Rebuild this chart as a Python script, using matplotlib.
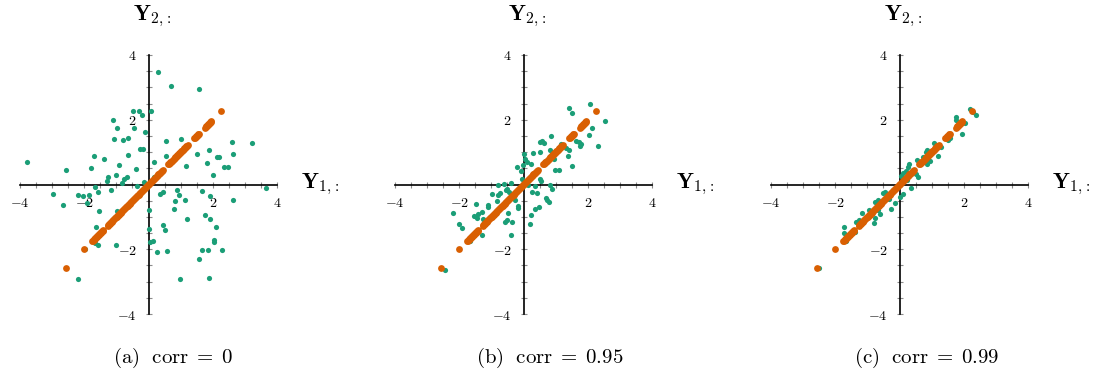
import matplotlib as mpl
mpl.use("agg")
import matplotlib.pyplot as plt
from matplotlib.ticker import FixedLocator, FixedFormatter

mpl.rcParams['mathtext.fontset'] = 'cm'

green = '#1b9e77'
orange = '#d95f02'

# green samples, panel (a) corr = 0
a_x = [-3.79, 0.30, 0.70, 1.58, -2.57, -2.96, -2.65, -2.18, -2.03, -1.84, -1.90, -1.80, -1.71,
       -1.40, -1.68, -1.58, -1.54, -1.62, -1.58, -1.66, -1.97, -2.19, -1.09, -0.97, -1.06, -0.79,
       -0.64, -0.63, -0.91, -1.27, -1.28, -1.18, -1.00, -0.68, -0.75, -0.81, -0.39, -0.37, -0.49,
       -0.30, -0.20, 0.07, -0.45, -0.11, -0.25, -0.18, -0.99, -1.00, -0.14, 0.18, 0.16, 0.53,
       0.53, 1.00, 0.37, 0.45, 0.88, 0.95, 0.84, 0.78, 0.00, 0.00, 0.44, 0.50, 0.06, 0.15,
       0.28, 0.59, 0.97, 1.14, 1.19, 1.17, 1.50, 1.65, 1.81, 1.89, 1.90, 2.01, 1.75, 1.90,
       2.10, 2.03, 2.05, 1.66, 1.84, 2.30, 1.58, 1.89, 2.13, 2.21, 2.36, 2.46, 2.61, 2.63,
       2.62, 3.23, 3.67]
a_y = [0.68, 3.49, 3.03, 2.96, 0.44, -0.29, -0.62, -0.33, -0.36, -0.33, -0.58, 0.52, 0.88,
       0.79, -0.07, -0.22, -0.82, -1.30, -1.87, -1.80, -2.00, -2.92, 1.99, 1.74, 1.39, 1.37,
       1.43, 0.92, 0.59, 0.24, 0.12, -0.18, 0.28, 0.24, 0.16, 0.06, 0.48, -0.05, 2.27,
       2.26, 2.15, 2.27, 1.75, 1.61, 1.09, 1.11, -0.83, -1.86, 0.07, 0.71, 0.24, 1.35,
       0.87, 1.39, -0.28, -0.22, -0.17, -0.31, -0.52, -0.77, -0.79, -1.37, -1.25, -1.39, -1.77, -1.76,
       -2.09, -2.06, -2.91, -0.47, -1.06, 0.56, 0.95, -0.20, 0.65, 1.06, -0.35, 0.28, -0.93, -1.08,
       -1.32, -1.72, -1.79, -2.03, -2.02, -2.03, -2.29, -2.89, 0.86, 0.86, 0.55, 0.55, 1.31, 0.95,
       -0.49, 1.27, -0.12]

# green samples, panel (b) corr = 0.95
b_x = [-2.44, -2.19, -2.02, -1.92, -1.49, -1.54, -1.42, -1.46, -1.30, -1.26, -1.12, -1.09, -0.98,
       -0.83, -0.79, -0.73, -0.79, -0.61, -0.54, -0.51, -0.46, -0.38, -0.28, -0.18, -0.17, -0.48,
       -0.52, -0.57, -0.35, -0.39, -1.28, -1.46, -1.66, -1.72, -0.21, -0.09, -0.06, 0.00, 0.04,
       -0.03, 0.11, 0.23, 0.31, 0.14, 0.26, 0.35, 0.41, 0.24, 0.20, 0.37, 0.47, 0.51, 0.54,
       0.52, 0.50, 0.58, 0.63, 0.70, 0.85, 0.82, 0.96, 0.99, 1.12, 0.70, 0.74, 0.79, 0.82,
       0.90, 1.16, 1.31, 1.41, 1.39, 1.52, 1.42, 1.52, 1.63, 1.73, 1.76, 1.79, 2.06, 2.04,
       2.14, 2.33, 2.54]
b_y = [-2.65, -0.87, -1.21, -1.33, -0.60, -0.96, -0.91, -1.04, -0.85, -1.07, -0.64, -0.70, -0.29,
       -0.52, -0.33, -0.25, -0.03, 0.03, -0.17, -0.13, -0.23, 0.06, -0.49, -0.65, -0.74, -0.89,
       -1.09, -1.15, -1.15, -1.56, -1.55, -1.43, -1.76, -1.71, 0.55, 0.41, 0.16, 0.93, 0.78,
       0.60, 0.70, 0.64, 0.98, -0.03, -0.23, -0.05, -0.27, -0.93, -1.22, -0.75, -0.69, 0.18, 0.10,
       1.00, 1.30, 1.33, 1.29, 0.74, 1.51, 1.08, 0.78, 0.45, 0.44, -0.43, -0.48, -0.54, -0.01,
       -0.14, 1.26, 1.14, 1.07, 0.88, 0.58, 2.37, 2.22, 1.35, 1.32, 1.19, 1.25, 2.48, 1.54,
       1.75, 1.19, 1.95]

# green samples, panel (c) corr = 0.99
c_x = [-2.51, -1.74, -1.72, -1.66, -1.37, -1.34, -1.25, -1.17, -0.95, -0.96, -0.78, -0.76, -0.68,
       -0.62, -0.75, -0.68, -0.52, -0.44, -0.32, -0.26, -0.15, -0.21, -0.06, 0.00, 0.11, 0.05,
       0.10, 0.20, 0.27, 0.30, 0.22, 0.36, 0.51, 0.58, 0.54, 0.72, 0.82, 0.86, 0.87, 0.94,
       1.08, 1.21, 1.28, 1.52, 1.57, 1.75, 1.77, 1.96, 2.03, 2.20, 2.37, 2.28]
c_y = [-2.59, -1.32, -1.49, -1.75, -1.48, -1.15, -1.10, -0.89, -0.79, -0.96, -1.18, -1.03, -0.79,
       -0.90, -0.53, -0.48, -0.27, -0.23, -0.46, -0.76, -0.56, -0.17, -0.07, -0.38, -0.29, 0.27,
       0.35, 0.43, 0.55, 0.62, 0.14, -0.10, 0.32, 0.24, 0.76, 0.84, 1.01, 1.07, 0.63, 0.74,
       1.29, 0.89, 1.15, 1.38, 1.43, 2.08, 2.00, 1.56, 1.89, 2.34, 2.15, 2.25]

# orange points sitting on the diagonal (same in every panel)
diag = [-2.57, -2.00,
        -1.75, -1.73, -1.71, -1.69, -1.67, -1.65, -1.63, -1.61, -1.59, -1.57, -1.55, -1.53,
        -1.51, -1.49, -1.47, -1.45, -1.43, -1.41,
        -1.27, -1.25, -1.23, -1.21, -1.19, -1.17, -1.15, -1.13, -1.11, -1.09, -1.07, -1.05,
        -1.03, -1.01, -0.99, -0.97, -0.95, -0.93, -0.91, -0.89, -0.87, -0.85, -0.83, -0.81,
        -0.79, -0.77, -0.75, -0.73, -0.71, -0.69, -0.67, -0.65, -0.63, -0.61, -0.59, -0.57,
        -0.55, -0.53, -0.51, -0.49, -0.47, -0.45, -0.43, -0.41, -0.39, -0.37, -0.35, -0.33,
        -0.31, -0.29, -0.27, -0.25, -0.23, -0.21, -0.19, -0.17, -0.15, -0.13, -0.11, -0.09,
        -0.07, -0.05, -0.03, -0.01, 0.01, 0.03, 0.05, 0.07, 0.09, 0.11, 0.13, 0.15, 0.17,
        0.19, 0.21, 0.23, 0.25, 0.27, 0.29, 0.31, 0.33, 0.35, 0.37, 0.39, 0.41, 0.43, 0.45,
        0.62, 0.64, 0.66, 0.68, 0.70, 0.72, 0.74, 0.76, 0.78, 0.80, 0.82, 0.84, 0.86, 0.88,
        0.90, 0.92, 0.94, 0.96, 0.98, 1.00, 1.02, 1.04, 1.06, 1.08, 1.10, 1.12, 1.14, 1.16,
        1.18, 1.20, 1.22,
        1.43, 1.45, 1.47, 1.49, 1.51, 1.53, 1.55, 1.57,
        1.76, 1.78, 1.80, 1.82, 1.84, 1.86, 1.88, 1.90, 1.92, 1.94, 1.96,
        2.27]

panels = [(a_x, a_y, r'$\mathrm{(a)\ \ corr\;=\;0}$'),
          (b_x, b_y, r'$\mathrm{(b)\ \ corr\;=\;0.95}$'),
          (c_x, c_y, r'$\mathrm{(c)\ \ corr\;=\;0.99}$')]

W, H = 1104, 376
fig = plt.figure(figsize=(W / 100, H / 100), dpi=100)

lefts = [20, 395, 771]
ticks = [i * 0.5 for i in range(-8, 9)]
labs = ['' for t in ticks]
for i, t in enumerate(ticks):
    if t in (-4, -2, 2, 4):
        labs[i] = r'$%d$' % t if t > 0 else r'$-%d$' % (-t)

for k, (gx, gy, cap) in enumerate(panels):
    ax = fig.add_axes([lefts[k] / W, (H - 314) / H, 257 / W, 259 / H])
    ax.set_xlim(-4, 4)
    ax.set_ylim(-4, 4)
    ax.set_facecolor('none')
    for s in ['top', 'right']:
        ax.spines[s].set_visible(False)
    for s in ['left', 'bottom']:
        ax.spines[s].set_position('zero')
        ax.spines[s].set_linewidth(1.2)
    ax.xaxis.set_major_locator(FixedLocator(ticks))
    ax.yaxis.set_major_locator(FixedLocator(ticks))
    ax.xaxis.set_major_formatter(FixedFormatter(labs))
    ax.yaxis.set_major_formatter(FixedFormatter(labs))
    ax.tick_params(direction='inout', length=5, width=0.8, color='0.55',
                   labelsize=10, pad=6)
    ax.annotate('', xy=(4.02, 0), xytext=(3.7, 0),
                arrowprops=dict(arrowstyle='->', lw=1.2, color='black', shrinkA=0, shrinkB=0))
    ax.annotate('', xy=(0, 4.02), xytext=(0, 3.7),
                arrowprops=dict(arrowstyle='->', lw=1.2, color='black', shrinkA=0, shrinkB=0))

    ax.scatter(gx, gy, s=14, color=green, linewidths=0, clip_on=False, zorder=3)
    ax.scatter(diag, diag, s=24, color=orange, linewidths=0, clip_on=False, zorder=4)

    ax.text(0.12, 5.2, r'$\mathbf{Y}_{2,\!{:}}$', fontsize=16, ha='center', va='center')
    ax.text(4.75, 0.0, r'$\mathbf{Y}_{1,\!{:}}$', fontsize=16, ha='left', va='center')
    fig.text((173 + 377 * k) / W, 1 - 358 / H, cap, fontsize=15, ha='center', va='center')

fig.savefig("out.png", dpi=100)
